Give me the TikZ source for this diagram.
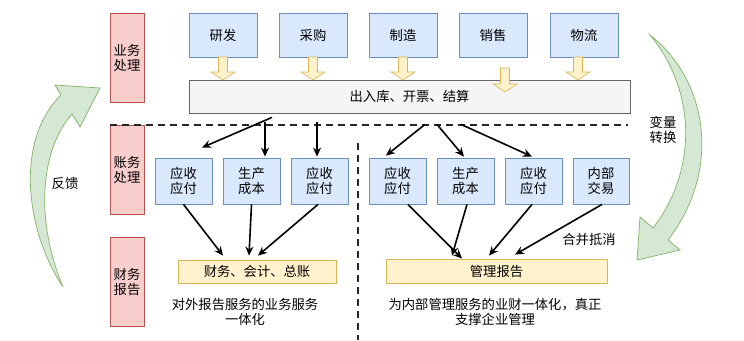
\documentclass[tikz,border=0pt]{standalone}
\usepackage{fontspec}
\setmainfont{Noto Sans CJK SC}
\usetikzlibrary{arrows.meta,calc}
\definecolor{bluef}{HTML}{DAE8FC}
\definecolor{blued}{HTML}{6C8EBF}
\definecolor{pinkf}{HTML}{F8CECC}
\definecolor{pinkd}{HTML}{B85450}
\definecolor{yelf}{HTML}{FFF2CC}
\definecolor{yeld}{HTML}{D6B656}
\definecolor{grayf}{HTML}{F5F5F5}
\definecolor{grayd}{HTML}{666666}
\definecolor{greenf}{HTML}{D5E8D4}
\definecolor{greend}{HTML}{82B366}
\begin{document}
\begin{tikzpicture}[x=1pt,y=-1pt,
  every node/.style={font=\fontsize{13.3}{15}\selectfont, inner sep=0pt, align=center},
  labbox/.style={draw=pinkd, fill=pinkf, line width=0.8pt, minimum width=34pt, minimum height=89pt},
  bluebox/.style={draw=blued, fill=bluef, line width=0.8pt, minimum width=68pt, minimum height=44pt},
  midbox/.style={draw=blued, fill=bluef, line width=0.8pt, minimum width=57pt, minimum height=46pt},
  graybar/.style={draw=grayd, fill=grayf, line width=0.8pt},
  yelbar/.style={draw=yeld, fill=yelf, line width=0.8pt},
  yarrow/.style={draw=yeld, fill=yelf, line width=0.6pt},
  garrow/.style={draw=greend, fill=greenf, line width=0.7pt},
  conn/.style={-{Stealth[length=9pt,width=8pt]}, line width=1.6pt, black},
  sep/.style={dash pattern=on 7pt off 5pt, line width=2pt, black!85}
]
\useasboundingbox (0,0) rectangle (744,340);

% green curved arrows
\filldraw[garrow] (63,287) .. controls (25,230) and (15,140) .. (61,95) -- (55,85) -- (100,88) -- (80,127) -- (72,114) .. controls (40,150) and (35,220) .. (63,287) -- cycle;
\filldraw[garrow] (650,35) .. controls (708,80) and (722,170) .. (668,240) -- (680,250) -- (637,260) -- (640,217) -- (653,228) .. controls (698,170) and (696,90) .. (650,35) -- cycle;
\node (fk) at (65,183) {反馈};
\node (bl) at (663,130) {变量\\转换};

% left labels
\node[labbox] (l1) at (127,58) {业务\\处理};
\node[labbox] (l2) at (127,170) {账务\\处理};
\node[labbox] (l3) at (127,282) {财务\\报告};

% top boxes
\node[bluebox] (t1) at (223,35) {研发};
\node[bluebox] (t2) at (313,35) {采购};
\node[bluebox] (t3) at (403,35) {制造};
\node[bluebox] (t4) at (493,35) {销售};
\node[bluebox] (t5) at (584,35) {物流};

% bar
\node[graybar, minimum width=441pt, minimum height=33pt] (bar) at (409.5,96.5) {出入库、开票、结算};

% small block arrows
\foreach \x/\a/\b in {223/57/80, 313/57/80, 403/57/80, 505/68/92, 578/57/80}{
  \filldraw[yarrow] ({\x-4.5},\a) -- ({\x+4.5},\a) -- ({\x+4.5},{\b-8}) -- ({\x+12},{\b-8}) -- (\x,\b) -- ({\x-12},{\b-8}) -- ({\x-4.5},{\b-8}) -- cycle;
}

% dashed separators
\coordinate (hs) at (110,125);
\coordinate (he) at (628,125);
\coordinate (vs) at (358,143);
\coordinate (ve) at (358,340);
\draw[sep] (hs) -- (he);
\draw[sep] (vs) -- (ve);

% middle boxes
\node[midbox] (m1) at (183.5,181) {应收\\应付};
\node[midbox] (m2) at (251.5,181) {生产\\成本};
\node[midbox] (m3) at (319.5,181) {应收\\应付};
\node[midbox] (m4) at (397.5,181) {应收\\应付};
\node[midbox] (m5) at (465.5,181) {生产\\成本};
\node[midbox] (m6) at (533.5,181) {应收\\应付};
\node[midbox, minimum width=56pt] (m7) at (601,181) {内部\\交易};

% bottom bars
\node[yelbar, minimum width=158pt, minimum height=23pt] (fb) at (257,271.5) {财务、会计、总账};
\node[yelbar, minimum width=221pt, minimum height=24pt] (mg) at (496.5,271) {管理报告};

% texts
\node (t6) at (245,312) {对外报告服务的业务服务\\一体化};
\node (t7) at (495,312) {为内部管理服务的业财一体化，真正\\支撑企业管理};
\node (t8) at (589,239) {合并抵消};

% arrows bar -> middle
\draw[conn] ($(bar.south)+(-137.5,4)$) -- ($(m1.north)+(18.5,-10)$);
\draw[conn] ($(bar.south)+(-144.5,9)$) -- ($(m2.north)+(13.5,-1)$);
\draw[conn] ($(bar.south)+(-92.5,9)$) -- ($(m3.north)+(-2.5,-1)$);
\draw[conn] ($(bar.south)+(15.5,11)$) -- ($(m4.north)+(-11.5,-2)$);
\draw[conn] ($(bar.south)+(27.5,11)$) -- ($(m5.north)+(-1.5,-1)$);
\draw[conn] ($(bar.south)+(51.5,11)$) -- ($(m6.north)+(-1.5,-1)$);

% arrows middle -> bottom
\draw[conn] (m1.south) -- ($(fb.north)+(-34,-4)$);
\draw[conn] (m2.south) -- ($(fb.north)+(-8,-4)$);
\draw[conn] ($(m3.south)+(-1.5,0)$) -- ($(fb.north)+(1,-4)$);
\draw[conn] ($(m4.south)+(10.5,0)$) -- ($(mg.north)+(-34.5,0)$);
\draw[conn] ($(m5.south)+(1.5,0)$) -- ($(mg.north)+(-44.5,-3)$);
\draw[conn] ($(m6.south)+(-1.5,0)$) -- ($(mg.north)+(-7.5,-3)$);
\draw[conn] ($(m7.south)+(1,0)$) -- ($(mg.north)+(18.5,-4)$);
\end{tikzpicture}
\end{document}
